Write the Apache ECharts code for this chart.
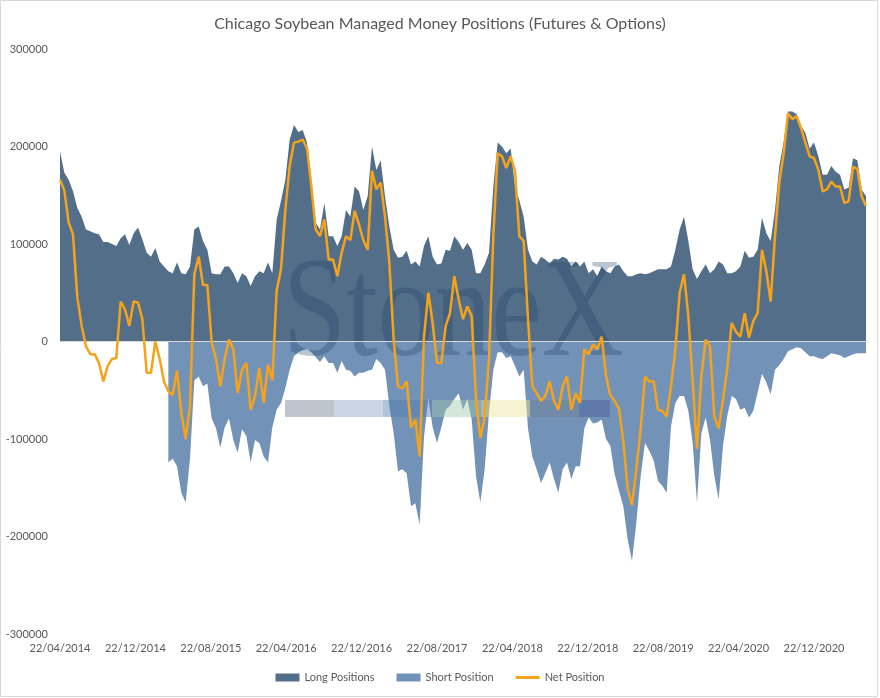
<!DOCTYPE html>
<html>
<head>
<meta charset="utf-8">
<title>Chicago Soybean Managed Money Positions</title>
<script src="https://cdn.jsdelivr.net/npm/echarts@6/dist/echarts.min.js"></script>
<style>
  html, body { margin: 0; padding: 0; background: #fff; }
  #chart { width: 880px; height: 698px; }
</style>
</head>
<body>
<div id="chart"></div>
<script>
// weekly COT reports, one value read every 2 weeks starting 22/04/2014
const START_LABEL = '22/04/2014';
const STEP_DAYS = 14;

// tick labels along the date axis (every 8 months)
const tickLabels = ['22/04/2014', '22/12/2014', '22/08/2015', '22/04/2016', '22/12/2016',
    '22/08/2017', '22/04/2018', '22/12/2018', '22/08/2019', '22/04/2020', '22/12/2020'];
const TICK_DAYS = 243.6; // avg days between two ticks

const yTicks = [-300000, -200000, -100000, 0, 100000, 200000, 300000];

const longPositions = [
    195000, 173000, 166000, 154000, 137000, 128000, 115000, 113000, 111000, 110000,
    102000, 102000, 100000, 98000, 106000, 110000, 99000, 111000, 117000, 105000,
    91000, 87000, 96000, 82000, 77000, 72000, 70000, 81000, 70000, 69000,
    77000, 115000, 118000, 103000, 94000, 70000, 69000, 69000, 77000, 77000,
    70000, 60000, 70000, 67000, 57000, 67000, 72000, 70000, 81000, 70000,
    125000, 144000, 166000, 207000, 222000, 215000, 217000, 204000, 163000, 122000,
    115000, 142000, 108000, 108000, 98000, 108000, 135000, 128000, 159000, 154000,
    135000, 149000, 200000, 176000, 186000, 149000, 118000, 94000, 86000, 87000,
    93000, 79000, 82000, 77000, 98000, 108000, 87000, 79000, 80000, 94000,
    93000, 108000, 102000, 94000, 101000, 94000, 70000, 70000, 79000, 91000,
    159000, 204000, 200000, 193000, 198000, 159000, 145000, 128000, 94000, 82000,
    79000, 87000, 84000, 80000, 85000, 84000, 87000, 85000, 77000, 82000,
    77000, 82000, 70000, 74000, 67000, 77000, 72000, 70000, 77000, 79000,
    72000, 67000, 67000, 69000, 70000, 69000, 70000, 72000, 74000, 74000,
    74000, 77000, 94000, 115000, 128000, 103000, 74000, 64000, 72000, 79000,
    70000, 74000, 82000, 79000, 70000, 70000, 72000, 77000, 93000, 86000,
    87000, 94000, 127000, 111000, 103000, 135000, 180000, 205000, 236000, 236000,
    233000, 221000, 214000, 198000, 204000, 190000, 171000, 171000, 180000, 174000,
    171000, 156000, 158000, 188000, 186000, 156000, 149000
];

// no short data in the sheet before early 2015
const shortPositions = [
    null, null, null, null, null, null, null, null, null, null,
    null, null, null, null, null, null, null, null, null, null,
    null, null, null, null, null, -124000, -120000, -128000, -155000, -165000,
    -120000, -40000, -36000, -46000, -43000, -79000, -89000, -109000, -88000, -79000,
    -101000, -114000, -90000, -97000, -124000, -101000, -104000, -118000, -124000, -88000,
    -70000, -63000, -48000, -29000, -15000, -11000, -9000, -8000, -11000, -16000,
    -21000, -15000, -22000, -22000, -32000, -20000, -29000, -30000, -36000, -32000,
    -32000, -30000, -29000, -18000, -22000, -29000, -66000, -94000, -133000, -131000,
    -135000, -169000, -166000, -188000, -98000, -58000, -88000, -104000, -88000, -70000,
    -66000, -59000, -53000, -70000, -59000, -80000, -138000, -165000, -131000, -73000,
    -29000, -11000, -11000, -17000, -15000, -25000, -36000, -29000, -89000, -118000,
    -131000, -145000, -135000, -124000, -141000, -155000, -131000, -124000, -141000, -128000,
    -128000, -89000, -78000, -84000, -83000, -80000, -100000, -107000, -136000, -153000,
    -169000, -203000, -225000, -186000, -138000, -104000, -112000, -122000, -143000, -148000,
    -155000, -87000, -63000, -56000, -56000, -71000, -104000, -165000, -94000, -78000,
    -101000, -138000, -162000, -107000, -76000, -56000, -59000, -70000, -68000, -78000,
    -71000, -52000, -33000, -42000, -54000, -29000, -24000, -18000, -10000, -8000,
    -6000, -7000, -11000, -15000, -15000, -17000, -18000, -15000, -12000, -13000,
    -14000, -17000, -15000, -13000, -12000, -12000, -12000
];

const netPosition = [
    166000, 155000, 122000, 110000, 45000, 16000, -5000, -13000, -13000, -22000,
    -41000, -25000, -18000, -17000, 41000, 33000, 16000, 41000, 40000, 23000,
    -32000, -32000, 0, -18000, -41000, -51000, -55000, -30000, -73000, -100000,
    -66000, 69000, 87000, 58000, 58000, -1000, -18000, -46000, -18000, 2000,
    -8000, -53000, -29000, -22000, -70000, -56000, -27000, -63000, -24000, -40000,
    52000, 74000, 135000, 180000, 204000, 205000, 207000, 198000, 159000, 115000,
    108000, 125000, 84000, 84000, 67000, 91000, 108000, 104000, 134000, 120000,
    104000, 94000, 175000, 156000, 163000, 128000, 81000, 2000, -46000, -48000,
    -41000, -88000, -80000, -118000, 5000, 50000, 19000, -22000, -22000, 16000,
    29000, 67000, 43000, 23000, 36000, 26000, -58000, -99000, -78000, -18000,
    108000, 193000, 190000, 178000, 190000, 175000, 108000, 103000, 23000, -46000,
    -53000, -61000, -56000, -41000, -61000, -70000, -46000, -36000, -70000, -53000,
    -63000, -8000, -13000, -3000, -8000, 5000, -35000, -55000, -61000, -69000,
    -103000, -151000, -168000, -131000, -90000, -36000, -41000, -41000, -70000, -71000,
    -77000, -46000, -8000, 50000, 69000, 26000, -41000, -110000, -36000, 2000,
    -5000, -77000, -89000, -60000, -27000, 19000, 10000, 5000, 29000, 4000,
    21000, 29000, 94000, 72000, 41000, 108000, 163000, 193000, 234000, 228000,
    231000, 219000, 204000, 190000, 188000, 176000, 154000, 156000, 164000, 159000,
    159000, 142000, 144000, 179000, 177000, 149000, 139000
];

const COLORS = {
    long: '#536e89',
    short: '#7292b8',
    net: '#f5a31a',
    text: '#595959'
};
const FONT = 'Lato, "Open Sans", sans-serif';

// x value = days since START_LABEL
const toPoints = arr => arr.map((v, i) => [i * STEP_DAYS, v]);
const lastDay = (longPositions.length - 1) * STEP_DAYS;

// watermark colour bar segments
const barColors = ['#6e7f8e', '#8aa3c4', '#4f7cae', '#9fc6ab', '#eee29a', '#6f8094', '#4a5a9a'];
const barSegments = barColors.map((c, k) => ({
    type: 'rect',
    z: 3,
    silent: true,
    shape: { x: 285 + k * 49, y: 400, width: k === barColors.length - 1 ? 31 : 49, height: 17 },
    style: { fill: c, opacity: 0.45 }
}));

const chart = echarts.init(document.getElementById('chart'), null, { renderer: 'canvas' });

const option = {
    animation: false,
    backgroundColor: '#fff',
    title: {
        text: 'Chicago Soybean Managed Money Positions (Futures & Options)',
        left: 'center',
        top: 11,
        textStyle: { fontFamily: FONT, fontSize: 16, fontWeight: 'normal', color: COLORS.text }
    },
    legend: {
        bottom: 10,
        left: 'center',
        itemWidth: 24,
        itemHeight: 8,
        itemGap: 22,
        textStyle: { fontFamily: FONT, fontSize: 11, color: COLORS.text },
        data: [
            { name: 'Long Positions', icon: 'rect' },
            { name: 'Short Position', icon: 'rect' },
            { name: 'Net Position', icon: 'path://M0,0 H24 V3 H0 Z' }
        ]
    },
    grid: { left: 60, right: 14, top: 49, bottom: 64 },
    xAxis: {
        type: 'value',
        min: 0,
        max: lastDay,
        interval: TICK_DAYS,
        axisLine: { show: false },
        axisTick: { show: false },
        splitLine: { show: false },
        axisLabel: {
            showMaxLabel: false,
            margin: 9,
            fontFamily: FONT,
            fontSize: 11,
            color: COLORS.text,
            formatter: v => {
                const k = Math.round(v / TICK_DAYS);
                if (Math.abs(v - k * TICK_DAYS) > 1) return '';
                return tickLabels[k] || '';
            }
        }
    },
    yAxis: {
        type: 'value',
        min: yTicks[0],
        max: yTicks[yTicks.length - 1],
        interval: 100000,
        axisLine: { show: false },
        axisTick: { show: false },
        splitLine: { show: false },
        axisLabel: {
            margin: 12,
            fontFamily: FONT,
            fontSize: 11,
            color: COLORS.text,
            formatter: v => String(v)
        }
    },
    graphic: [
        {
            type: 'rect',
            silent: true,
            shape: { x: 0.5, y: 0.5, width: 877, height: 696 },
            style: { fill: 'none', stroke: '#d9d9d9', lineWidth: 1 }
        },
        {
            // StoneX logo watermark, condensed serif
            type: 'text',
            z: 3,
            silent: true,
            x: 283,
            y: 318,
            scaleX: 0.8,
            style: {
                text: 'StoneX',
                x: 0,
                y: 0,
                verticalAlign: 'middle',
                font: '142px "Liberation Serif", "DejaVu Serif", serif',
                fill: 'rgba(30, 62, 104, 0.3)'
            }
        }
    ].concat(barSegments),
    series: [
        {
            name: 'Long Positions',
            type: 'line',
            data: toPoints(longPositions),
            symbol: 'none',
            lineStyle: { width: 0 },
            itemStyle: { color: COLORS.long },
            areaStyle: { color: COLORS.long, opacity: 1 },
            z: 2
        },
        {
            name: 'Short Position',
            type: 'line',
            data: toPoints(shortPositions),
            symbol: 'none',
            lineStyle: { width: 0 },
            itemStyle: { color: COLORS.short },
            areaStyle: { color: COLORS.short, opacity: 1 },
            z: 2,
            markLine: {
                silent: true,
                symbol: 'none',
                label: { show: false },
                lineStyle: { color: '#d9d9d9', width: 1, type: 'solid' },
                data: [{ yAxis: 0 }]
            }
        },
        {
            name: 'Net Position',
            type: 'line',
            data: toPoints(netPosition),
            symbol: 'none',
            lineStyle: { width: 2.5, color: COLORS.net },
            itemStyle: { color: COLORS.net },
            z: 5
        }
    ]
};

chart.setOption(option);
</script>
</body>
</html>
